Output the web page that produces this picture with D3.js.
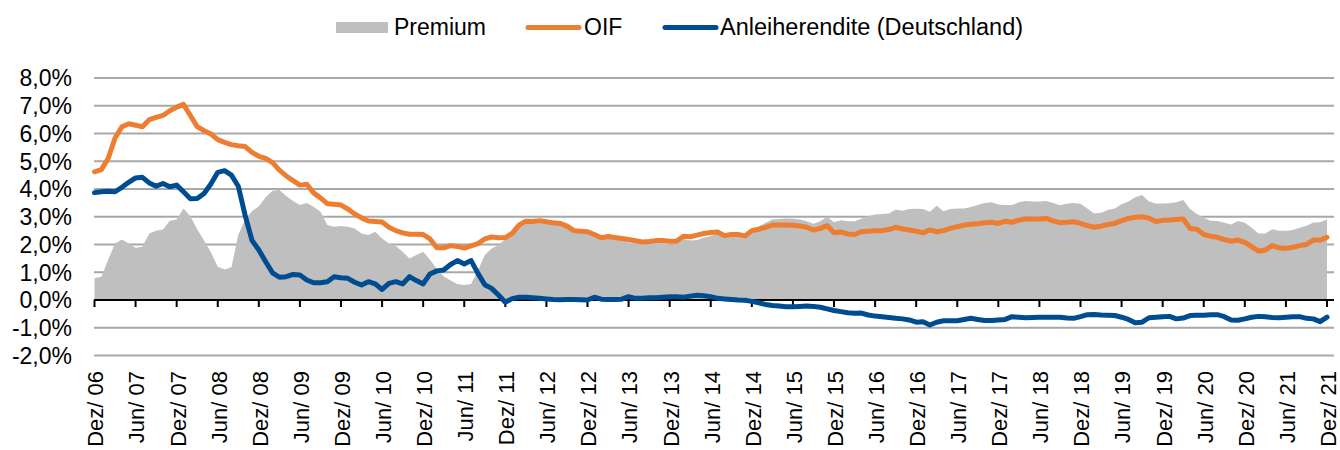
<!DOCTYPE html>
<html>
<head>
<meta charset="utf-8">
<script src="https://cdn.jsdelivr.net/npm/d3@7"></script>
<style>
  body { margin: 0; background: #fff; }
  svg text { font-family: "Liberation Sans", Arial, sans-serif; fill: #000; }
</style>
</head>
<body>
<div id="chart"></div>
<script>
// monthly values Dez/06 .. Dez/21 (181 months), in %
var oif = [
  4.62, 4.70, 5.10, 5.84, 6.24, 6.35, 6.30, 6.24, 6.50, 6.58,
  6.65, 6.82, 6.95, 7.05, 6.65, 6.25, 6.10, 5.98, 5.78, 5.68,
  5.60, 5.56, 5.53, 5.32, 5.18, 5.10, 4.95, 4.68, 4.47, 4.30,
  4.14, 4.17, 3.86, 3.68, 3.47, 3.45, 3.42, 3.28, 3.10, 2.96,
  2.85, 2.83, 2.81, 2.62, 2.50, 2.42, 2.37, 2.37, 2.36, 2.20,
  1.88, 1.88, 1.96, 1.93, 1.87, 1.95, 2.03, 2.20, 2.27, 2.24,
  2.25, 2.40, 2.70, 2.84, 2.83, 2.86, 2.82, 2.78, 2.76, 2.66,
  2.50, 2.48, 2.46, 2.36, 2.24, 2.29, 2.25, 2.22, 2.18, 2.14,
  2.09, 2.11, 2.14, 2.14, 2.12, 2.12, 2.30, 2.28, 2.34, 2.40,
  2.43, 2.45, 2.32, 2.36, 2.36, 2.31, 2.50, 2.55, 2.62, 2.70,
  2.70, 2.70, 2.69, 2.67, 2.62, 2.52, 2.58, 2.68, 2.42, 2.45,
  2.38, 2.36, 2.46, 2.48, 2.50, 2.50, 2.54, 2.62, 2.56, 2.52,
  2.48, 2.42, 2.53, 2.46, 2.50, 2.58, 2.64, 2.70, 2.73, 2.75,
  2.78, 2.80, 2.76, 2.84, 2.80, 2.88, 2.93, 2.92, 2.92, 2.94,
  2.85, 2.79, 2.80, 2.82, 2.76, 2.68, 2.62, 2.66, 2.72, 2.76,
  2.86, 2.94, 2.98, 3.00, 2.95, 2.83, 2.87, 2.88, 2.90, 2.92,
  2.58, 2.55, 2.36, 2.30, 2.26, 2.18, 2.12, 2.16, 2.08, 1.92,
  1.76, 1.80, 1.96, 1.88, 1.86, 1.90, 1.96, 2.00, 2.16, 2.16,
  2.26
];

var bund = [
  3.87, 3.90, 3.92, 3.90, 4.06, 4.24, 4.40, 4.42, 4.22, 4.10,
  4.20, 4.08, 4.14, 3.90, 3.65, 3.66, 3.84, 4.18, 4.60, 4.66,
  4.50, 4.10, 3.05, 2.15, 1.80, 1.38, 0.98, 0.82, 0.84, 0.92,
  0.90, 0.72, 0.62, 0.62, 0.66, 0.84, 0.80, 0.78, 0.64, 0.54,
  0.66, 0.58, 0.38, 0.60, 0.66, 0.58, 0.84, 0.70, 0.58, 0.94,
  1.05, 1.08, 1.28, 1.42, 1.30, 1.42, 0.96, 0.55, 0.42, 0.18,
  -0.08, 0.05, 0.10, 0.10, 0.08, 0.06, 0.04, 0.02, 0.01, 0.02,
  0.02, 0.01, 0.00, 0.10, 0.03, 0.02, 0.02, 0.03, 0.12, 0.06,
  0.06, 0.08, 0.08, 0.10, 0.12, 0.12, 0.10, 0.14, 0.17, 0.15,
  0.12, 0.06, 0.04, 0.02, 0.00, -0.01, -0.05, -0.10, -0.16, -0.20,
  -0.22, -0.24, -0.24, -0.23, -0.22, -0.23, -0.26, -0.32, -0.38, -0.42,
  -0.46, -0.48, -0.47, -0.54, -0.58, -0.60, -0.63, -0.66, -0.68, -0.72,
  -0.80, -0.78, -0.90, -0.80, -0.75, -0.75, -0.75, -0.70, -0.66, -0.70,
  -0.74, -0.74, -0.72, -0.70, -0.60, -0.62, -0.64, -0.63, -0.62, -0.62,
  -0.62, -0.62, -0.65, -0.66, -0.60, -0.53, -0.52, -0.54, -0.55, -0.56,
  -0.62, -0.70, -0.82, -0.80, -0.64, -0.62, -0.60, -0.59, -0.68, -0.65,
  -0.56, -0.55, -0.55, -0.53, -0.53, -0.60, -0.72, -0.73, -0.68, -0.62,
  -0.59, -0.60, -0.63, -0.64, -0.62, -0.60, -0.60, -0.66, -0.68, -0.78,
  -0.62
];

var premium = [
  0.78, 0.84, 1.45, 2.04, 2.18, 2.04, 1.88, 1.92, 2.40, 2.50,
  2.54, 2.86, 2.90, 3.30, 3.02, 2.55, 2.14, 1.72, 1.20, 1.10,
  1.18, 2.35, 2.90, 3.20, 3.38, 3.70, 3.94, 3.96, 3.75, 3.57,
  3.42, 3.50, 3.36, 3.18, 2.70, 2.64, 2.67, 2.64, 2.58, 2.40,
  2.34, 2.46, 2.22, 2.04, 1.95, 1.74, 1.50, 1.62, 1.74, 1.45,
  1.12, 0.85, 0.70, 0.58, 0.54, 0.58, 1.06, 1.62, 1.86, 1.98,
  2.20, 2.34, 2.60, 2.75, 2.75, 2.80, 2.80, 2.75, 2.76, 2.68,
  2.48, 2.46, 2.46, 2.33, 2.20, 2.28, 2.23, 2.20, 2.07, 2.09,
  2.03, 2.02, 2.06, 2.04, 2.00, 2.03, 2.20, 2.14, 2.16, 2.24,
  2.31, 2.39, 2.28, 2.34, 2.36, 2.31, 2.54, 2.65, 2.78, 2.90,
  2.92, 2.94, 2.93, 2.90, 2.84, 2.75, 2.84, 3.00, 2.80, 2.87,
  2.84, 2.84, 2.93, 3.02, 3.08, 3.10, 3.12, 3.25, 3.22, 3.28,
  3.29, 3.28, 3.18, 3.40, 3.20, 3.28, 3.30, 3.30, 3.35, 3.42,
  3.50, 3.52, 3.44, 3.42, 3.42, 3.52, 3.57, 3.55, 3.55, 3.57,
  3.50, 3.41, 3.47, 3.50, 3.47, 3.30, 3.12, 3.14, 3.24, 3.30,
  3.45, 3.55, 3.70, 3.78, 3.55, 3.48, 3.48, 3.49, 3.52, 3.60,
  3.28, 3.10, 2.96, 2.86, 2.85, 2.78, 2.72, 2.85, 2.78, 2.60,
  2.40, 2.40, 2.55, 2.50, 2.50, 2.52, 2.60, 2.68, 2.79, 2.80,
  2.90
];

// one label every 6 months
var tickLabels = [
  "Dez/ 06", "Jun/ 07", "Dez/ 07", "Jun/ 08", "Dez/ 08", "Jun/ 09", "Dez/ 09",
  "Jun/ 10", "Dez/ 10", "Jun/ 11", "Dez/ 11", "Jun/ 12", "Dez/ 12", "Jun/ 13",
  "Dez/ 13", "Jun/ 14", "Dez/ 14", "Jun/ 15", "Dez/ 15", "Jun/ 16", "Dez/ 16",
  "Jun/ 17", "Dez/ 17", "Jun/ 18", "Dez/ 18", "Jun/ 19", "Dez/ 19", "Jun/ 20",
  "Dez/ 20", "Jun/ 21", "Dez/ 21"
];
var yTicks = [-2, -1, 0, 1, 2, 3, 4, 5, 6, 7, 8];
var seriesNames = ["Premium", "OIF", "Anleiherendite (Deutschland)"];

var svgWidth = 1340;
var svgHeight = 450;
var colors = { premium: "#bfbfbf", oif: "#ed7d31", bund: "#004c91" };

var svg = d3.select("#chart")
    .append("svg")
    .attr("width", svgWidth)
    .attr("height", svgHeight);

var x = d3.scaleLinear().domain([0, oif.length - 1]).range([94.5, 1327]);
var y = d3.scaleLinear().domain([-2, 8]).range([355.5, 78]);
var plotLeft = 94, plotRight = 1334;

// gridlines
svg.append("g")
    .selectAll("line")
    .data(yTicks.filter(d => d !== 0))
    .enter().append("line")
    .attr("x1", plotLeft).attr("x2", plotRight)
    .attr("y1", d => y(d)).attr("y2", d => y(d))
    .attr("stroke", "#a8a8a8")
    .attr("stroke-width", 2);

// y labels
svg.append("g")
    .selectAll("text")
    .data(yTicks)
    .enter().append("text")
    .attr("x", 72)
    .attr("y", d => y(d))
    .attr("dy", "0.36em")
    .attr("text-anchor", "end")
    .style("font-size", "23px")
    .text(d => d3.format(".1f")(d).replace("−", "-").replace(".", ",") + "%");

// premium area
var area = d3.area()
    .x((d, i) => x(i))
    .y0(y(0))
    .y1(d => y(d));

svg.append("path")
    .datum(premium)
    .attr("d", area)
    .attr("fill", colors.premium);

// zero axis with ticks
svg.append("line")
    .attr("x1", plotLeft).attr("x2", plotRight)
    .attr("y1", y(0)).attr("y2", y(0))
    .attr("stroke", "#000")
    .attr("stroke-width", 2);

svg.append("g")
    .selectAll("line")
    .data(tickLabels)
    .enter().append("line")
    .attr("x1", (d, i) => x(i * 6)).attr("x2", (d, i) => x(i * 6))
    .attr("y1", y(0)).attr("y2", y(0) + 7)
    .attr("stroke", "#000")
    .attr("stroke-width", 2);

svg.append("g")
    .selectAll("text")
    .data(tickLabels)
    .enter().append("text")
    .attr("transform", (d, i) => `translate(${x(i * 6) - 1},371) rotate(-90)`)
    .attr("dy", "0.45em")
    .attr("text-anchor", "end")
    .style("font-size", "22px")
    .text(d => d);

// lines
var line = d3.line()
    .x((d, i) => x(i))
    .y(d => y(d));

svg.append("path")
    .datum(oif)
    .attr("d", line)
    .attr("fill", "none")
    .attr("stroke", colors.oif)
    .attr("stroke-width", 5)
    .attr("stroke-linejoin", "round")
    .attr("stroke-linecap", "round");

svg.append("path")
    .datum(bund)
    .attr("d", line)
    .attr("fill", "none")
    .attr("stroke", colors.bund)
    .attr("stroke-width", 5)
    .attr("stroke-linejoin", "round")
    .attr("stroke-linecap", "round");

// legend
var legend = svg.append("g");
legend.append("rect")
    .attr("x", 336).attr("y", 22)
    .attr("width", 52).attr("height", 11)
    .attr("fill", colors.premium);
legend.append("text")
    .attr("x", 394).attr("y", 34.5)
    .style("font-size", "23px")
    .text(seriesNames[0]);

legend.append("line")
    .attr("x1", 528).attr("x2", 579)
    .attr("y1", 27.5).attr("y2", 27.5)
    .attr("stroke", colors.oif)
    .attr("stroke-width", 5)
    .attr("stroke-linecap", "round");
legend.append("text")
    .attr("x", 584).attr("y", 34.5)
    .style("font-size", "23px")
    .text(seriesNames[1]);

legend.append("line")
    .attr("x1", 665).attr("x2", 716)
    .attr("y1", 27.5).attr("y2", 27.5)
    .attr("stroke", colors.bund)
    .attr("stroke-width", 5)
    .attr("stroke-linecap", "round");
legend.append("text")
    .attr("x", 720).attr("y", 34.5)
    .style("font-size", "23.5px")
    .text(seriesNames[2]);
</script>
</body>
</html>
